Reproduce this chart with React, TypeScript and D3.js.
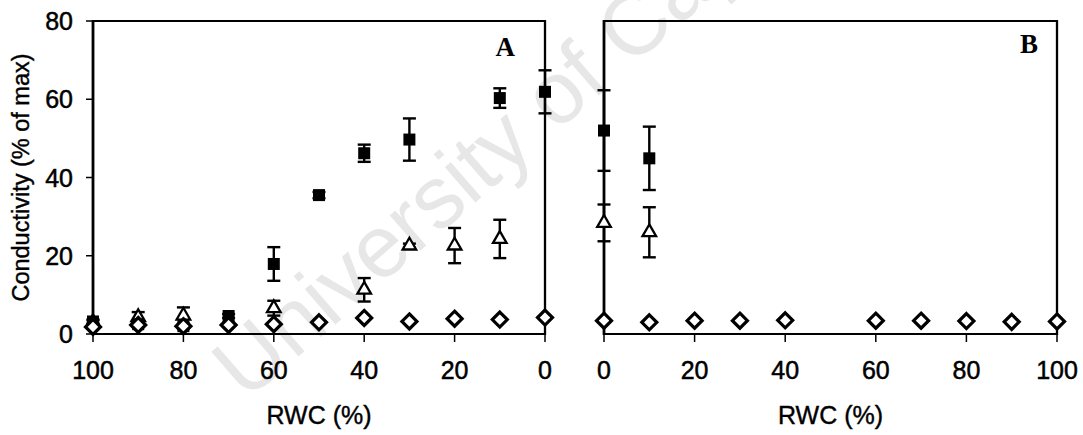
import React from "react";
import * as d3 from "d3";

// Relative water content (%) sampled in each panel
const rwcA = [100, 90, 80, 70, 60, 50, 40, 30, 20, 10, 0];
const rwcB = [0, 10, 20, 30, 40, 60, 70, 80, 90, 100];

// Panel A: conductivity (% of max) and standard errors; null = not measured
const squareA = [3.2, 2.5, 2.0, 4.6, 17.9, 35.5, 46.2, 49.7, null, 60.3, 61.9];
const squareErrA = [0.5, 0.5, 0.5, 0.5, 4.3, 0.8, 2.2, 5.4, null, 2.5, 5.5];
const triangleA = [3.0, 4.3, 4.7, null, 6.6, null, 11.3, 22.6, 22.6, 24.3, null];
const triangleErrA = [0.5, 1.3, 2.1, null, 1.9, null, 3.0, 0.5, 4.5, 4.9, null];
const diamondA = [1.8, 2.3, 2.0, 2.3, 2.5, 3.0, 4.1, 3.2, 3.9, 3.7, 4.2];

// Panel B
const squareB = [52.0, 44.9, null, null, null, null, null, null, null, null];
const squareErrB = [10.3, 8.1, null, null, null, null, null, null, null, null];
const triangleB = [28.4, 26.0, null, null, null, null, null, null, null, null];
const triangleErrB = [4.7, 6.4, null, null, null, null, null, null, null, null];
const diamondB = [3.4, 3.0, 3.4, 3.4, 3.5, 3.4, 3.4, 3.3, 3.1, 3.2];

const xTicks = [0, 20, 40, 60, 80, 100];
const yTicks = [0, 20, 40, 60, 80];

const W = 1083;
const H = 435;
const SANS = "'Liberation Sans', Arial, sans-serif";
const SERIF = "'Liberation Serif', 'Times New Roman', serif";

const y = d3.scaleLinear().domain([0, 80]).range([334, 21]);
const xA = d3.scaleLinear().domain([100, 0]).range([93, 545]);
const xB = d3.scaleLinear().domain([0, 100]).range([604, 1057]);

type Scale = d3.ScaleLinear<number, number>;

function ErrorBars({ xs, vals, errs, x }: { xs: number[]; vals: (number | null)[]; errs: (number | null)[]; x: Scale }) {
  const cap = 6.5;
  return (
    <g stroke="#000" strokeWidth={2.4}>
      {xs.map((r, i) => {
        const v = vals[i];
        const e = errs[i];
        if (v == null || e == null) return null;
        const cx = x(r);
        const y1 = y(v + e);
        const y2 = y(v - e);
        return (
          <g key={i}>
            <line x1={cx} x2={cx} y1={y1} y2={y2} />
            <line x1={cx - cap} x2={cx + cap} y1={y1} y2={y1} />
            <line x1={cx - cap} x2={cx + cap} y1={y2} y2={y2} />
          </g>
        );
      })}
    </g>
  );
}

function Squares({ xs, vals, x }: { xs: number[]; vals: (number | null)[]; x: Scale }) {
  const s = 12;
  return (
    <g fill="#000">
      {xs.map((r, i) =>
        vals[i] == null ? null : (
          <rect key={i} x={x(r) - s / 2} y={y(vals[i] as number) - s / 2} width={s} height={s} />
        )
      )}
    </g>
  );
}

const triPath = d3.symbol().type(d3.symbolTriangle).size(80)();
const diaPath = "M0,-7.5L7.5,0L0,7.5L-7.5,0Z";

function Triangles({ xs, vals, x }: { xs: number[]; vals: (number | null)[]; x: Scale }) {
  return (
    <g fill="#fff" stroke="#000" strokeWidth={2.3}>
      {xs.map((r, i) =>
        vals[i] == null ? null : (
          <path key={i} d={triPath as string} transform={`translate(${x(r)},${y(vals[i] as number)})`} />
        )
      )}
    </g>
  );
}

function Diamonds({ xs, vals, x }: { xs: number[]; vals: number[]; x: Scale }) {
  return (
    <g fill="#fff" stroke="#000" strokeWidth={3.2} strokeLinejoin="miter">
      {xs.map((r, i) => (
        <path key={i} d={diaPath} transform={`translate(${x(r)},${y(vals[i])})`} />
      ))}
    </g>
  );
}

function Frame({ x, showY }: { x: Scale; showY: boolean }) {
  const [x0, x1] = x.range();
  const left = Math.min(x0, x1);
  const right = Math.max(x0, x1);
  const top = y(80);
  const bottom = y(0);
  return (
    <g stroke="#000" fill="none">
      <line x1={left} x2={right} y1={top} y2={top} strokeWidth={2} />
      <line x1={left} x2={right} y1={bottom} y2={bottom} strokeWidth={2} />
      <line x1={left} x2={left} y1={top - 1} y2={bottom + 1} strokeWidth={2.8} />
      <line x1={right} x2={right} y1={top - 1} y2={bottom + 1} strokeWidth={2.3} />
      {xTicks.map((t) => (
        <line key={t} x1={x(t)} x2={x(t)} y1={bottom} y2={bottom + 8} strokeWidth={1.5} />
      ))}
      {showY &&
        yTicks.map((t) => (
          <line key={t} x1={left - 7} x2={left} y1={y(t)} y2={y(t)} strokeWidth={1.5} />
        ))}
    </g>
  );
}

function TickLabels({ x, showY }: { x: Scale; showY: boolean }) {
  const left = Math.min(...x.range());
  return (
    <g fontFamily={SANS} fontSize={25} fill="#000" stroke="#000" strokeWidth={0.5}>
      {xTicks.map((t) => (
        <text key={t} x={x(t)} y={379} textAnchor="middle">
          {t}
        </text>
      ))}
      {showY &&
        yTicks.map((t) => (
          <text key={t} x={left - 20} y={y(t) + 9} textAnchor="end">
            {t}
          </text>
        ))}
    </g>
  );
}

export default function App() {
  return (
    <svg
      width={W}
      height={H}
      viewBox={`0 0 ${W} ${H}`}
      style={{ position: "absolute", left: 0, top: 0, background: "#fff" }}
    >
      <rect width={W} height={H} fill="#fff" />
      <text
        x={0}
        y={0}
        transform="translate(246,402) rotate(-41)"
        fontFamily={SANS}
        fontSize={88}
        fill="#e7e7e7"
      >
        University of Cape Town
      </text>

      <Frame x={xA} showY={true} />
      <Frame x={xB} showY={false} />
      <TickLabels x={xA} showY={true} />
      <TickLabels x={xB} showY={false} />

      <ErrorBars xs={rwcA} vals={squareA} errs={squareErrA} x={xA} />
      <ErrorBars xs={rwcA} vals={triangleA} errs={triangleErrA} x={xA} />
      <ErrorBars xs={rwcB} vals={squareB} errs={squareErrB} x={xB} />
      <ErrorBars xs={rwcB} vals={triangleB} errs={triangleErrB} x={xB} />

      <Triangles xs={rwcA} vals={triangleA} x={xA} />
      <Squares xs={rwcA} vals={squareA} x={xA} />
      <Diamonds xs={rwcA} vals={diamondA} x={xA} />
      <Triangles xs={rwcB} vals={triangleB} x={xB} />
      <Squares xs={rwcB} vals={squareB} x={xB} />
      <Diamonds xs={rwcB} vals={diamondB} x={xB} />

      <text x={515} y={56} fontFamily={SERIF} fontWeight="bold" fontSize={27} textAnchor="end">
        A
      </text>
      <text x={1038} y={53} fontFamily={SERIF} fontWeight="bold" fontSize={27} textAnchor="end">
        B
      </text>

      <g fontFamily={SANS} fontSize={25} fill="#000" stroke="#000" strokeWidth={0.4} textAnchor="middle">
        <text x={(xA(100) + xA(0)) / 2} y={424}>RWC (%)</text>
        <text x={(xB(0) + xB(100)) / 2} y={424}>RWC (%)</text>
        <text transform={`translate(29,${(y(0) + y(80)) / 2}) rotate(-90)`} fontSize={23.5}>
          Conductivity (% of max)
        </text>
      </g>
    </svg>
  );
}
